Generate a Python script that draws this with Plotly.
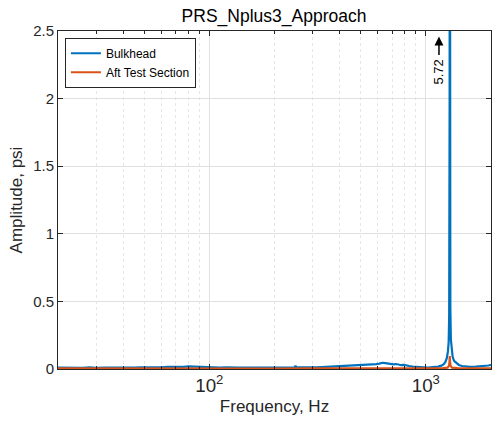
import math
import plotly.graph_objects as go

title_text = "PRS_Nplus3_Approach"
x_label = "Frequency, Hz"
y_label = "Amplitude, psi"
series_names = ["Bulkhead", "Aft Test Section"]
peak_label = "5.72"

bulk_freq = [20, 22, 24, 26, 28, 30, 33, 36, 39, 42, 45, 48, 52, 56, 60, 64, 68, 72, 76, 80,
             85, 90, 95, 100, 106, 112, 120, 128, 136, 145, 155, 165, 175, 185, 195, 210, 225,
             240, 248, 250, 252, 255, 270, 290, 310, 330, 350, 370, 390, 410, 430, 450, 470,
             490, 510, 530, 550, 570, 590, 610, 630, 650, 670, 690, 710, 730, 750, 770, 790,
             810, 840, 870, 900, 940, 980, 1020, 1060, 1100, 1140, 1180, 1210, 1230, 1250,
             1265, 1275, 1282, 1286, 1288, 1290, 1292, 1294, 1298, 1305, 1315, 1330, 1350,
             1380, 1420, 1470, 1530, 1600, 1700, 1800, 1900, 1950, 2000]
bulk_amp = [0.010, 0.008, 0.011, 0.009, 0.012, 0.008, 0.010, 0.009, 0.011, 0.008, 0.010,
            0.012, 0.011, 0.014, 0.013, 0.016, 0.015, 0.018, 0.016, 0.019, 0.017, 0.018,
            0.015, 0.014, 0.011, 0.010, 0.012, 0.009, 0.011, 0.010, 0.012, 0.009, 0.011,
            0.010, 0.012, 0.010, 0.011, 0.012, 0.013, 0.024, 0.013, 0.012, 0.011, 0.013,
            0.012, 0.014, 0.016, 0.018, 0.021, 0.023, 0.026, 0.024, 0.028, 0.030, 0.027,
            0.032, 0.030, 0.034, 0.036, 0.040, 0.046, 0.043, 0.040, 0.036, 0.034, 0.037,
            0.032, 0.028, 0.030, 0.025, 0.022, 0.018, 0.015, 0.013, 0.012, 0.010, 0.012,
            0.014, 0.018, 0.025, 0.035, 0.050, 0.080, 0.130, 0.200, 0.400, 0.900, 2.000,
            5.720, 2.200, 0.900, 0.450, 0.220, 0.140, 0.090, 0.060, 0.045, 0.030, 0.022,
            0.018, 0.016, 0.017, 0.019, 0.022, 0.026, 0.030]

aft_freq = [20, 30, 50, 70, 100, 150, 200, 300, 400, 550, 700, 850, 1000, 1100, 1200, 1260,
            1280, 1286, 1290, 1294, 1300, 1320, 1400, 1550, 1700, 1850, 2000]
aft_amp = [0.004, 0.003, 0.003, 0.004, 0.004, 0.003, 0.003, 0.004, 0.004, 0.005, 0.005,
           0.004, 0.004, 0.004, 0.006, 0.010, 0.025, 0.050, 0.095, 0.050, 0.025, 0.010,
           0.006, 0.005, 0.005, 0.005, 0.005]

x_range = [20, 2000]
y_range = [0, 2.5]
y_ticks = [0, 0.5, 1, 1.5, 2, 2.5]
y_tick_text = ["0", "0.5", "1", "1.5", "2", "2.5"]
arrow_freq = 1150
arrow_head_y = 2.46
label_y = 2.2

colors = ["#0072BD", "#D95319"]
font_family = "Liberation Sans, Arial, Helvetica, sans-serif"
axis_color = "#262626"

fig = go.Figure()
fig.add_trace(go.Scatter(x=bulk_freq, y=bulk_amp, mode="lines", name=series_names[0],
                         line=dict(color=colors[0], width=2.2)))
fig.add_trace(go.Scatter(x=aft_freq, y=aft_amp, mode="lines", name=series_names[1],
                         line=dict(color=colors[1], width=2.2)))

fig.add_annotation(x=math.log10(arrow_freq), y=arrow_head_y, xref="x", yref="y",
                   text="", showarrow=True, ax=0, ay=20, arrowhead=2, arrowsize=1.2,
                   arrowwidth=1.5, arrowcolor="black")
fig.add_annotation(x=math.log10(arrow_freq), y=label_y, xref="x", yref="y",
                   text=peak_label, showarrow=False, textangle=-90,
                   font=dict(size=13, color="black", family=font_family))

fig.update_layout(
    width=492, height=421,
    margin=dict(l=58, r=1, t=31, b=52),
    paper_bgcolor="white", plot_bgcolor="white",
    font=dict(family=font_family, color=axis_color),
    title=dict(text=title_text, x=0.557, xanchor="center", y=0.978, yanchor="top",
               font=dict(size=17.5, color="black")),
    showlegend=True,
    legend=dict(x=0.016, y=0.98, xanchor="left", yanchor="top",
                bordercolor=axis_color, borderwidth=1, bgcolor="white",
                font=dict(size=12, color="black"), tracegroupgap=0,
                itemwidth=30),
    xaxis=dict(type="log", range=[math.log10(x_range[0]), math.log10(x_range[1])],
               dtick=1, exponentformat="power", showexponent="all",
               ticks="inside", ticklen=5, tickcolor=axis_color, mirror="ticks",
               showline=True, linecolor=axis_color, linewidth=1,
               showgrid=True, gridcolor="#e0e0e0", gridwidth=1,
               tickfont=dict(size=15, color=axis_color),
               minor=dict(ticks="inside", ticklen=3, tickcolor=axis_color,
                          showgrid=True, gridcolor="#e6e6e6", griddash="dot"),
               title=dict(text=x_label, font=dict(size=17, color=axis_color), standoff=5),
               zeroline=False),
    yaxis=dict(range=y_range, tickvals=y_ticks, ticktext=y_tick_text,
               ticks="inside", ticklen=5, tickcolor=axis_color, mirror="ticks",
               showline=True, linecolor=axis_color, linewidth=1,
               showgrid=True, gridcolor="#e0e0e0", gridwidth=1,
               tickfont=dict(size=15, color=axis_color),
               title=dict(text=y_label, font=dict(size=17, color=axis_color), standoff=6),
               zeroline=False),
)

fig.write_html("out.html")
